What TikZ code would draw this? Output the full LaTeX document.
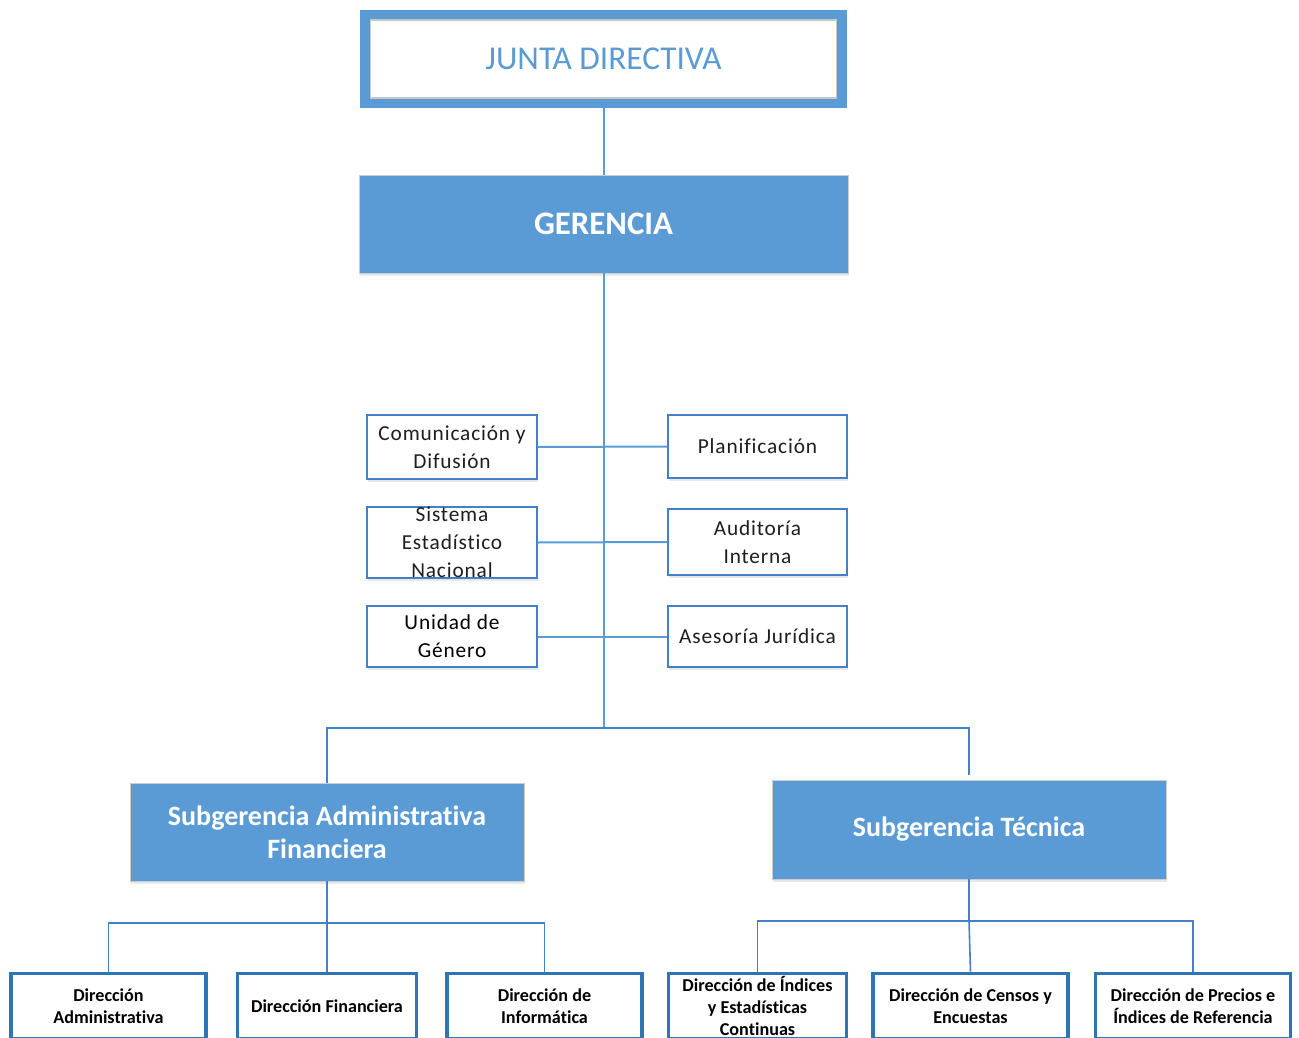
\documentclass[tikz,border=0pt]{standalone}
\usepackage{fontspec}
\setmainfont[Ligatures=NoCommon]{Carlito}
\newfontfamily\spc[LetterSpace=4,Ligatures=NoCommon]{Carlito}
\usetikzlibrary{shadows}
\definecolor{mblue}{RGB}{91,155,213}
\definecolor{dblue}{RGB}{46,117,182}
\definecolor{lblue}{RGB}{68,128,200}
\definecolor{txt}{RGB}{30,30,30}
\tikzset{
  shad/.style={drop shadow={shadow xshift=1pt,shadow yshift=-2pt,opacity=0.18,fill=gray}},
  topbox/.style={draw=mblue,line width=7.5pt,fill=white,inner sep=0pt,shad},
  bigbox/.style={draw=gray!40,line width=0.6pt,fill=mblue,text=white,inner sep=0pt,align=center,shad},
  smallbox/.style={draw=lblue,line width=1.4pt,fill=white,inner sep=0pt,align=center,text=txt,
     font=\spc\fontsize{16}{21}\selectfont,shad},
  dirbox/.style={draw=dblue,line width=2.6pt,fill=white,inner sep=0pt,align=center,text=black,
     font=\bfseries\fontsize{13.6}{16.5}\selectfont,shad},
  conA/.style={draw=mblue,line width=1.5pt},
  conB/.style={draw=lblue,line width=1.2pt},
}
\begin{document}
\begin{tikzpicture}[x=0.75pt,y=-0.75pt]
\useasboundingbox (0,0) rectangle (1299,1038);
\clip (0,0) rectangle (1299,1038);
% top
\node[topbox,minimum width=357.75pt,minimum height=66pt] (junta) at (603.5,59) {};
\node[draw=gray!45,line width=0.8pt,minimum width=350pt,minimum height=58.5pt,inner sep=0pt,
      text=mblue,font=\fontsize{25}{30}\selectfont] (juntatxt) at (603.5,59) {JUNTA DIRECTIVA};
\node[bigbox,minimum width=366.75pt,minimum height=73.5pt,font=\bfseries\fontsize{24.6}{28}\selectfont] (ger) at (603.5,224) {GERENCIA};
% staff boxes
\node[smallbox,minimum width=127.5pt,minimum height=48pt] (comu) at (452,447) {Comunicación y\\Difusión};
\node[smallbox,minimum width=127.5pt,minimum height=49pt] (sist) at (452,542.5) {Sistema\\Estadístico\\Nacional};
\node[smallbox,minimum width=127.5pt,minimum height=46pt,text=black] (unid) at (452,636.5) {Unidad de\\Género};
\node[smallbox,minimum width=134.25pt,minimum height=47.25pt] (plan) at (757.5,446.5) {Planificación};
\node[smallbox,minimum width=134.25pt,minimum height=49.5pt] (audi) at (757.5,542) {Auditoría\\Interna};
\node[smallbox,minimum width=134.25pt,minimum height=46pt] (ases) at (757.5,636.5) {Asesoría Jurídica};
% sub-management
\node[bigbox,minimum width=295.5pt,minimum height=73.5pt,font=\bfseries\fontsize{21}{24.75}\selectfont] (sadm) at (327,832) {Subgerencia Administrativa\\Financiera};
\node[bigbox,minimum width=295.5pt,minimum height=74.25pt,font=\bfseries\fontsize{21}{24.75}\selectfont] (stec) at (969,829.5) {Subgerencia Técnica};
% directorates
\node[dirbox,minimum width=146pt,minimum height=49pt] (d1) at (108.5,1006) {Dirección\\Administrativa};
\node[dirbox,minimum width=134.5pt,minimum height=49pt] (d2) at (327,1006) {Dirección Financiera};
\node[dirbox,minimum width=146pt,minimum height=49pt] (d3) at (544.5,1006) {Dirección de\\Informática};
\node[dirbox,minimum width=133.75pt,minimum height=49pt] (d4) at (757.5,1006) {Dirección de Índices\\y Estadísticas\\Continuas};
\node[dirbox,minimum width=146pt,minimum height=49pt] (d5) at (970.5,1006) {Dirección de Censos y\\Encuestas};
\node[dirbox,minimum width=146.5pt,minimum height=49pt] (d6) at (1193,1006) {Dirección de Precios e\\Índices de Referencia};
% junctions
\coordinate (j1) at (603.5,728);
\coordinate (j2) at (327,923);
\coordinate (j3) at (969,921);
% connectors
\draw[conA] (junta.south) -- (ger.north);
\draw[conA] (ger.south) -- (j1);
\draw[conA] (comu.east) -- (plan.west);
\draw[conA] (sist.east) -- (audi.west);
\draw[conA] (unid.east) -- (ases.west);
\draw[conB] (j1) -| (sadm.north);
\draw[conB] (j1) -| ([yshift=3.75pt]stec.north);
\draw[conB] (sadm.south) -- (j2);
\draw[conB] (j2) -| (d1.north);
\draw[conB] (j2) -| (d3.north);
\draw[conB] (j2) -- (d2.north);
\draw[conB] (stec.south) -- (j3);
\draw[conB] (j3) -| (d4.north);
\draw[conB] (j3) -| (d6.north);
\draw[conB] (j3) -- (d5.north);
\end{tikzpicture}
\end{document}
